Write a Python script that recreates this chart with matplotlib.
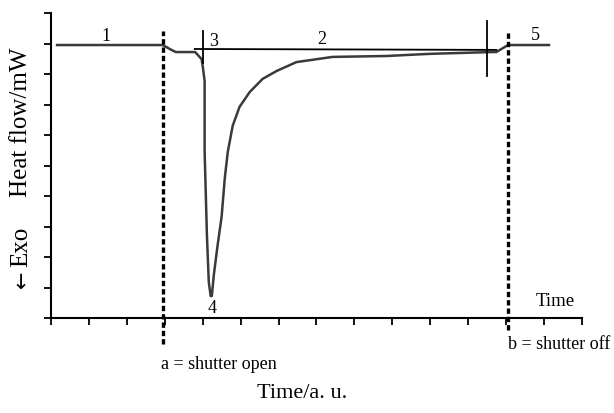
import numpy as np
import matplotlib
matplotlib.use("Agg")
import matplotlib.pyplot as plt

plt.rcParams['font.family'] = ['Liberation Serif', 'DejaVu Serif']

# heat flow trace (time in a.u., heat flow in a.u.)
time = [0.16, 2.95, 3.13, 3.29, 3.80, 3.97, 4.00, 4.05, 4.05, 4.11, 4.16, 4.21,
        4.24, 4.29, 4.39, 4.50, 4.58, 4.66, 4.79, 4.97, 5.24, 5.58, 5.95, 6.47,
        7.42, 8.84, 9.97, 11.63, 11.74, 12.05, 13.13]
heat = [8.95, 8.95, 8.82, 8.72, 8.72, 8.49, 8.26, 7.77, 5.48, 2.75, 1.18, 0.72,
        0.72, 1.38, 2.36, 3.34, 4.56, 5.44, 6.30, 6.92, 7.41, 7.84, 8.10, 8.39,
        8.56, 8.59, 8.66, 8.72, 8.72, 8.95, 8.95]

# extrapolated baseline under the peak
base_t = [3.79, 11.74]
base_h = [8.82, 8.79]

shutter_open = 2.95
shutter_off = 12.05
mark_3 = 4.0
mark_end = 11.5

fig = plt.figure(figsize=(6.14, 4.14), dpi=100)
ax = fig.add_axes([51 / 614, 95 / 414, 531 / 614, 305 / 414])

ax.plot(time, heat, color='#3a3a3a', lw=1.8)
ax.plot(base_t, base_h, color='black', lw=1.3)
ax.plot([mark_3, mark_3], [9.41, 8.36], color='black', lw=1.3)
ax.plot([mark_end, mark_end], [9.74, 7.93], color='black', lw=1.3)

for xv, ybot in [(shutter_open, -0.85), (shutter_off, -0.4)]:
    ax.plot([xv, xv], [ybot, 9.41], color='black', lw=2.4,
            dashes=(1.6, 0.9), clip_on=False)

ax.text(1.45, 9.25, '1', fontsize=13, ha='center', va='center')
ax.text(4.3, 9.11, '3', fontsize=13, ha='center', va='center')
ax.text(7.13, 9.15, '2', fontsize=13, ha='center', va='center')
ax.text(12.76, 9.31, '5', fontsize=13, ha='center', va='center')
ax.text(4.26, 0.36, '4', fontsize=13, ha='center', va='center')
ax.text(13.3, 0.56, 'Time', fontsize=13.5, ha='center', va='center')
ax.text(2.9, -1.2, 'a = shutter open', fontsize=13, ha='left', va='top')
ax.text(12.05, -0.55, 'b = shutter off', fontsize=13, ha='left', va='top')

ax.set_xlim(0, 14)
ax.set_ylim(0, 10)
ax.set_xticks(np.arange(0, 15, 1))
ax.set_yticks(np.arange(0, 11, 1))
ax.set_xticklabels([])
ax.set_yticklabels([])
ax.tick_params(axis='x', direction='out', length=5, width=1.3)
ax.tick_params(axis='y', direction='out', length=5, width=1.3)
for side in ['top', 'right']:
    ax.spines[side].set_visible(False)
for side in ['left', 'bottom']:
    ax.spines[side].set_linewidth(1.5)

fig.text(0.492, 0.05, 'Time/a. u.', fontsize=16, ha='center', va='center')
fig.text(0.035, 0.704, 'Heat flow/mW', rotation=90, fontsize=18,
         ha='center', va='center')
fig.text(0.035, 0.404, 'Exo', rotation=90, fontsize=18,
         ha='center', va='center')
fig.text(0.036, 0.326, '\u2190', rotation=90, fontsize=15,
         family=['DejaVu Sans'], ha='center', va='center')

fig.savefig('out.png', dpi=100)
